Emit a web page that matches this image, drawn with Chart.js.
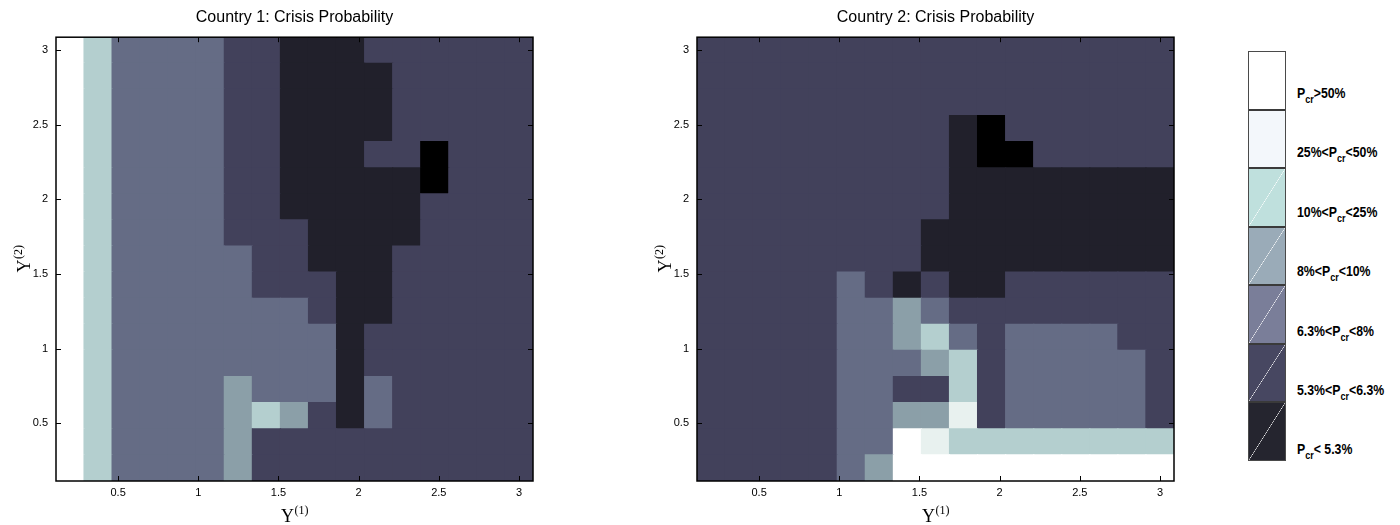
<!DOCTYPE html>
<html>
<head>
<meta charset="utf-8">
<title>Crisis Probability</title>
<script src="https://cdn.jsdelivr.net/npm/chart.js@4.4.1/dist/chart.umd.min.js"></script>
<style>
  body { margin: 0; background: #fff; }
  #wrap { position: relative; width: 1400px; height: 525px; overflow: hidden; }
  .panel { position: absolute; top: 0; width: 560px; height: 525px; }
  #legendBox { position: absolute; left: 1248px; top: 51px; width: 38px; height: 410px;
    border: 1px solid #4a4a4a; box-sizing: border-box; display: flex; flex-direction: column; }
  .seg { flex: 1; border-top: 2px solid #3a3a3a; }
  .seg:first-child { border-top: none; }
  .lbl { position: absolute; left: 1297px; font: bold 15px "Liberation Sans", Arial, sans-serif;
    transform: scaleX(0.82); transform-origin: 0 50%; white-space: nowrap; line-height: 15px; color: #000; }
  .lbl sub { font-size: 11px; vertical-align: -5px; line-height: 0; }
</style>
</head>
<body>
<div id="wrap">
  <div class="panel" style="left:0px"><canvas id="chart1"></canvas></div>
  <div class="panel" style="left:640px"><canvas id="chart2"></canvas></div>
  <div id="legendBox"></div>
</div>
<script>
"use strict"

// cell edges of the 17x17 grid (same on both axes)
const gridEdges = [0.1125, 0.2875, 0.4625, 0.6375, 0.8125, 0.9875, 1.1625, 1.3375, 1.5125,
                   1.6875, 1.8625, 2.0375, 2.2125, 2.3875, 2.5625, 2.7375, 2.9125, 3.0875];
const tickValues = [0.5, 1, 1.5, 2, 2.5, 3];
const tickLabels = ["0.5", "1", "1.5", "2", "2.5", "3"];

// probability class of every cell, rows listed top (Y2 = 3) to bottom (Y2 = 0.2)
// K: <5.3%  D: 5.3-6.3%  M: 6.3-8%  G: 8-10%  C: 10-25%  A: 25-50%  W: >50%  B: lowest
const country1Rows = [
  "WCMMMMDDKKKDDDDDD",
  "WCMMMMDDKKKKDDDDD",
  "WCMMMMDDKKKKDDDDD",
  "WCMMMMDDKKKKDDDDD",
  "WCMMMMDDKKKDDBDDD",
  "WCMMMMDDKKKKKBDDD",
  "WCMMMMDDKKKKKDDDD",
  "WCMMMMDDDKKKKDDDD",
  "WCMMMMMDDKKKDDDDD",
  "WCMMMMMDDDKKDDDDD",
  "WCMMMMMMMDKKDDDDD",
  "WCMMMMMMMMKDDDDDD",
  "WCMMMMMMMMKDDDDDD",
  "WCMMMMGMMMKMDDDDD",
  "WCMMMMGCGDKMDDDDD",
  "WCMMMMGDDDDDDDDDD",
  "WCMMMMGDDDDDDDDDD"
];
const country2Rows = [
  "DDDDDDDDDDDDDDDDD",
  "DDDDDDDDDDDDDDDDD",
  "DDDDDDDDDDDDDDDDD",
  "DDDDDDDDDKBDDDDDD",
  "DDDDDDDDDKBBDDDDD",
  "DDDDDDDDDKKKKKKKK",
  "DDDDDDDDDKKKKKKKK",
  "DDDDDDDDKKKKKKKKK",
  "DDDDDDDDKKKKKKKKK",
  "DDDDDMDKDKKDDDDDD",
  "DDDDDMMGMDDDDDDDD",
  "DDDDDMMGCMDMMMMDD",
  "DDDDDMMMGCDMMMMMD",
  "DDDDDMMDDCDMMMMMD",
  "DDDDDMMGGADMMMMMD",
  "DDDDDMMWACCCCCCCC",
  "DDDDDMGWWWWWWWWWW"
];

const classCodes = ["K", "D", "M", "G", "C", "A", "W", "B"];
const plotColors = ["#21202b", "#42415b", "#656c85", "#8b9fa8", "#b4cfcf", "#e8f1ef", "#ffffff", "#000000"];

// legend, top to bottom
const legendColors = ["#ffffff", "#f3f7fb", "#bfe0dd", "#9aabb8", "#7a7e99", "#474761", "#25252f"];
const legendBefore = ["", "25%<", "10%<", "8%<", "6.3%<", "5.3%<", ""];
const legendAfter = [">50%", "<50%", "<25%", "<10%", "<8%", "<6.3%", "< 5.3%"];

Chart.defaults.color = "#000";
Chart.defaults.font.family = "'Liberation Sans', Arial, sans-serif";

function buildCells(rows){
    const cells = [];
    const colors = [];
    rows.forEach((row, r) => {
        const k = rows.length - 1 - r;
        for (let c = 0; c < row.length; c++) {
            cells.push({ x: (gridEdges[c] + gridEdges[c + 1]) / 2, y: [gridEdges[k], gridEdges[k + 1]] });
            colors.push(plotColors[classCodes.indexOf(row[c])]);
        }
    });
    return { cells, colors };
}

// box around the plot with inward ticks, matlab style
const frameTicks = {
    id: "frameTicks",
    afterDatasetsDraw(chart){
        const { ctx, chartArea: a, scales } = chart;
        ctx.save();
        ctx.strokeStyle = "#000";
        ctx.lineWidth = 1;
        ctx.beginPath();
        scales.x.ticks.forEach(t => {
            const px = Math.round(scales.x.getPixelForValue(t.value)) + 0.5;
            ctx.moveTo(px, a.bottom); ctx.lineTo(px, a.bottom - 5);
            ctx.moveTo(px, a.top); ctx.lineTo(px, a.top + 5);
        });
        scales.y.ticks.forEach(t => {
            const py = Math.round(scales.y.getPixelForValue(t.value)) + 0.5;
            ctx.moveTo(a.left, py); ctx.lineTo(a.left + 5, py);
            ctx.moveTo(a.right, py); ctx.lineTo(a.right - 5, py);
        });
        ctx.stroke();
        ctx.lineWidth = 1.5;
        ctx.strokeRect(a.left, a.top, a.right - a.left, a.bottom - a.top);
        ctx.restore();
    }
};

function drawSupLabel(ctx, base, sup, cx, baseY){
    ctx.font = "18px 'Liberation Serif', serif";
    const wBase = ctx.measureText(base).width;
    ctx.font = "12px 'Liberation Serif', serif";
    const wSup = ctx.measureText(sup).width;
    const x0 = cx - (wBase + wSup) / 2;
    ctx.font = "18px 'Liberation Serif', serif";
    ctx.fillText(base, x0, baseY);
    ctx.font = "12px 'Liberation Serif', serif";
    ctx.fillText(sup, x0 + wBase + 0.5, baseY - 8);
}

// Y^(1) under the x axis, Y^(2) beside the y axis
const axisTitles = {
    id: "axisTitles",
    afterDraw(chart){
        const { ctx, chartArea: a } = chart;
        ctx.save();
        ctx.fillStyle = "#000";
        ctx.textBaseline = "alphabetic";
        ctx.textAlign = "left";
        drawSupLabel(ctx, "Y", "(1)", (a.left + a.right) / 2, a.bottom + 41);
        ctx.translate(a.left - 26, (a.top + a.bottom) / 2);
        ctx.rotate(-Math.PI / 2);
        drawSupLabel(ctx, "Y", "(2)", 0, 0);
        ctx.restore();
    }
};

function makeHeatmap(canvasId, title, rows, yAxisWidth, padRight){
    const { cells, colors } = buildCells(rows);
    const tickOpts = {
        padding: 0,
        autoSkip: false,
        maxRotation: 0,
        font: { size: 11 },
        callback: (v, i) => tickLabels[i]
    };
    return new Chart(document.getElementById(canvasId), {
        type: "bar",
        data: {
            datasets: [{
                data: cells,
                backgroundColor: colors,
                borderWidth: 0,
                inflateAmount: 0.6,
                barPercentage: 1,
                categoryPercentage: 1
            }]
        },
        options: {
            responsive: true,
            maintainAspectRatio: false,
            animation: false,
            layout: { padding: { left: 0, right: padRight, top: 0, bottom: 0 } },
            plugins: {
                legend: { display: false },
                tooltip: { enabled: false },
                title: {
                    display: true,
                    text: title,
                    fullSize: false,
                    color: "#000",
                    font: { size: 16, weight: "normal" },
                    padding: { top: 8, bottom: 10 }
                }
            },
            scales: {
                x: {
                    type: "linear",
                    min: gridEdges[0],
                    max: gridEdges[gridEdges.length - 1],
                    offset: false,
                    grid: { display: false, drawTicks: false },
                    border: { display: false },
                    ticks: { ...tickOpts, padding: 5 },
                    afterBuildTicks: s => { s.ticks = tickValues.map(v => ({ value: v })); },
                    afterFit: s => { s.height = 44; }
                },
                y: {
                    type: "linear",
                    min: gridEdges[0],
                    max: gridEdges[gridEdges.length - 1],
                    grid: { display: false, drawTicks: false },
                    border: { display: false },
                    ticks: { ...tickOpts, padding: 8 },
                    afterBuildTicks: s => { s.ticks = tickValues.map(v => ({ value: v })); },
                    afterFit: s => { s.width = yAxisWidth; }
                }
            }
        },
        plugins: [frameTicks, axisTitles]
    });
}

function buildLegend(){
    const box = document.getElementById("legendBox");
    const wrap = document.getElementById("wrap");
    legendColors.forEach((col, i) => {
        const seg = document.createElement("div");
        seg.className = "seg";
        // faint "/" diagonal seen in the printed colour bar
        seg.style.background = i < 2 ? col :
            `linear-gradient(to bottom right, ${col} calc(50% - 0.5px), rgba(255,255,255,0.22) 50%, ${col} calc(50% + 0.5px))`;
        box.appendChild(seg);

        const lbl = document.createElement("div");
        lbl.className = "lbl";
        lbl.style.top = (85 + i * 59.4) + "px";
        lbl.appendChild(document.createTextNode(legendBefore[i] + "P"));
        const sub = document.createElement("sub");
        sub.textContent = "cr";
        lbl.appendChild(sub);
        lbl.appendChild(document.createTextNode(legendAfter[i]));
        wrap.appendChild(lbl);
    });
}

makeHeatmap("chart1", "Country 1: Crisis Probability", country1Rows, 56, 27);
makeHeatmap("chart2", "Country 2: Crisis Probability", country2Rows, 57, 26);
buildLegend();
console.log("charts drawn");
</script>
</body>
</html>
